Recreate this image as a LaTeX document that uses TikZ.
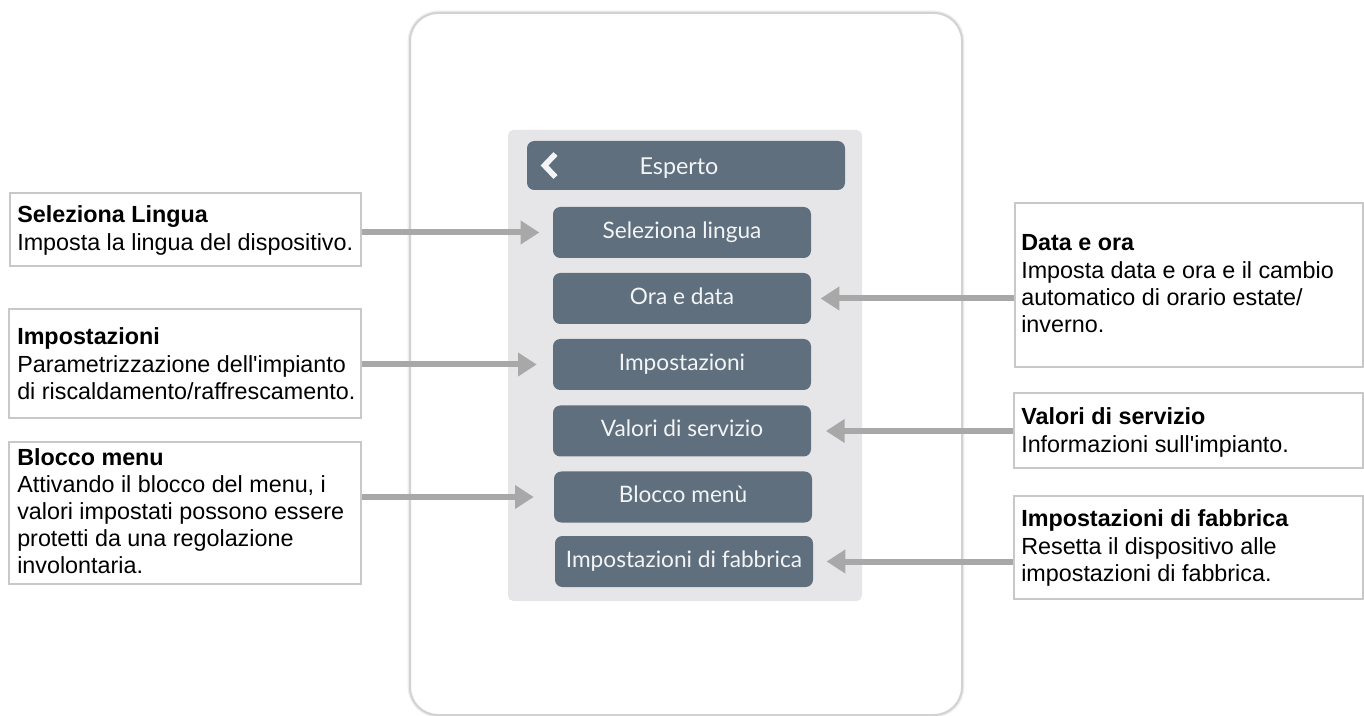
\documentclass[tikz,border=0pt]{standalone}
\usepackage{fontspec}
\setmainfont{Liberation Sans}
\newfontfamily\callfont{Liberation Sans}
\newfontfamily\btnfont{Lato}
\usetikzlibrary{arrows.meta,fit}
\definecolor{btncol}{HTML}{5F6F7E}
\definecolor{panelcol}{HTML}{E6E6E8}
\definecolor{arrcol}{HTML}{A8A8A8}
\definecolor{boxcol}{HTML}{C8C8C8}
\definecolor{framecol}{HTML}{D2D2D2}
\definecolor{shadecol}{HTML}{EDEDED}
\definecolor{btntext}{HTML}{F2F4F6}
\begin{document}
\begin{tikzpicture}[x=0.75pt,y=-0.75pt,
  framebox/.style={draw=framecol, line width=1.5pt, rounded corners=21pt, fill=white},
  panelbox/.style={fill=panelcol, rounded corners=4pt, inner sep=0pt, draw=none},
  btnbox/.style={fill=btncol, rounded corners=5.5pt, inner sep=0pt, text=btntext,
    minimum width=258*0.75pt, minimum height=51*0.75pt,
    text height=12.5pt, text depth=3.5pt,
    font=\btnfont\fontsize{17}{20}\selectfont},
  callout/.style={draw=boxcol, line width=1.2pt, fill=white, inner sep=0pt},
  desc/.style={anchor=base west, inner sep=0pt, font=\callfont\fontsize{17.5}{20.3}\selectfont},
  arr/.style={draw=arrcol, line width=4.5pt, -{Triangle[length=14pt,width=17pt]}}
]
\useasboundingbox (0,0) rectangle (1364,716);
\fill[white] (0,0) rectangle (1364,716);

% device frame
\draw[draw=shadecol, line width=3.5pt, rounded corners=21pt] (410,13) rectangle (962,715);
\draw[framebox] (410,13) rectangle (962,715);

% panel
\node[panelbox, fit={(508,130) (862,601)}] (panel) {};

% header
\node[btnbox, minimum width=318*0.75pt, minimum height=49*0.75pt] (head) at (686,165.5) {};
\node[inner sep=0pt, text=btntext, text height=12.5pt, text depth=3.5pt,
  font=\btnfont\fontsize{17.5}{20}\selectfont] (headtxt) at (679,168.5) {Esperto};
\draw[btntext, line width=4.2pt, line join=miter, line cap=butt]
  (555.5,154) -- (544.5,165.5) -- (555.5,177);

% buttons
\node[btnbox] (b1) at (682,232.5) {Seleziona lingua};
\node[btnbox] (b2) at (682,298.5) {Ora e data};
\node[btnbox] (b3) at (682,364.5) {Impostazioni};
\node[btnbox] (b4) at (682,431) {Valori di servizio};
\node[btnbox] (b5) at (683,497) {Blocco menù};
\node[btnbox] (b6) at (684,561.5) {Impostazioni di fabbrica};

% left callouts
\node[callout, fit={(10,193) (361,266)}] (c1) {};
\node[desc] (t1) at (17,223) {\parbox[t]{265pt}{\raggedright\textbf{Seleziona Lingua}\\Imposta la lingua del dispositivo.}};
\node[callout, fit={(9,309) (361,418)}] (c2) {};
\node[desc] (t2) at (17,345) {\parbox[t]{265pt}{\raggedright\textbf{Impostazioni}\\Parametrizzazione dell'impianto\\di riscaldamento/raffrescamento.}};
\node[callout, fit={(9,442) (361,584)}] (c3) {};
\node[desc] (t3) at (17,465) {\parbox[t]{265pt}{\raggedright\textbf{Blocco menu}\\Attivando il blocco del menu, i\\valori impostati possono essere\\protetti da una regolazione\\involontaria.}};

% right callouts
\node[callout, fit={(1015,203) (1363,367)}] (c4) {};
\node[desc] (t4) at (1021,251) {\parbox[t]{262pt}{\raggedright\textbf{Data e ora}\\Imposta data e ora e il cambio\\automatico di orario estate/\\inverno.}};
\node[callout, fit={(1014,393) (1363,468)}] (c5) {};
\node[desc] (t5) at (1021,425) {\parbox[t]{262pt}{\raggedright\textbf{Valori di servizio}\\Informazioni sull'impianto.}};
\node[callout, fit={(1014,496) (1363,599)}] (c6) {};
\node[desc] (t6) at (1021,527) {\parbox[t]{262pt}{\raggedright\textbf{Impostazioni di fabbrica}\\Resetta il dispositivo alle\\impostazioni di fabbrica.}};

% arrows
\draw[arr] (c1.east |- b1.west) -- ([xshift=-10pt]b1.west);
\draw[arr] (c2.east |- b3.west) -- ([xshift=-12pt]b3.west);
\draw[arr] (c3.east |- b5.west) -- ([xshift=-15pt]b5.west);
\draw[arr] (c4.west |- b2.east) -- ([xshift=7pt]b2.east);
\draw[arr] (c5.west |- b4.east) -- ([xshift=11pt]b4.east);
\draw[arr] (c6.west |- b6.east) -- ([xshift=10pt]b6.east);
\end{tikzpicture}
\end{document}
